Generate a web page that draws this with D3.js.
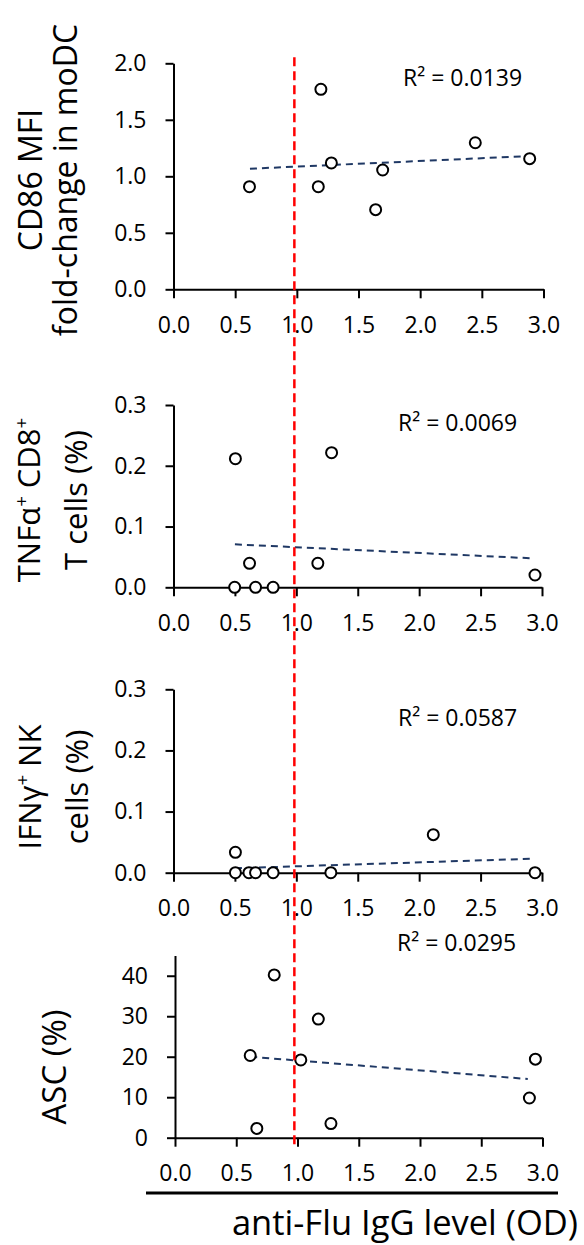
<!DOCTYPE html>
<html>
<head>
<meta charset="utf-8">
<script src="https://cdn.jsdelivr.net/npm/d3@7"></script>
<style>
  body { margin: 0; background: #fff; }
  text { font-family: "Open Sans", sans-serif; fill: #000; }
</style>
</head>
<body>
<div class="chart"></div>
<script>
// values
var xTicks = [0, 0.5, 1.0, 1.5, 2.0, 2.5, 3.0];
var cutoff = 0.98;

var cd86X = [0.616, 1.195, 1.280, 1.174, 1.696, 1.639, 2.447, 2.888];
var cd86Y = [0.908, 1.770, 1.118, 0.908, 1.056, 0.705, 1.297, 1.156];
var cd86Trend = [[0.62, 1.067], [2.90, 1.180]];

var tnfX = [0.504, 1.287, 0.619, 1.175, 0.498, 0.668, 0.811, 2.943];
var tnfY = [0.2116, 0.2215, 0.0395, 0.0395, 0, 0, 0, 0.0202];
var tnfTrend = [[0.50, 0.0707], [2.92, 0.0477]];

var ifnX = [0.504, 2.115, 0.504, 0.614, 0.668, 0.811, 1.281, 2.943];
var ifnY = [0.0334, 0.0622, 0, 0, 0, 0, 0, 0];
var ifnTrend = [[0.50, 0.0072], [2.92, 0.0229]];

var ascX = [0.81, 1.17, 0.614, 1.027, 2.942, 2.893, 0.668, 1.273];
var ascY = [40.2, 29.3, 20.3, 19.2, 19.4, 9.8, 2.3, 3.5];
var ascTrend = [[0.614, 20.0], [2.88, 14.5]];

var r2Labels = ["R\u00b2 = 0.0139", "R\u00b2 = 0.0069", "R\u00b2 = 0.0587", "R\u00b2 = 0.0295"];

var width = 584, height = 1245;

var svg = d3.select(".chart").append("svg")
    .attr("width", width)
    .attr("height", height);

// one entry per panel: frame in pixels + data
var panels = [
  { xs: cd86X, ys: cd86Y, trend: cd86Trend, yMax: 2.0, yTicks: [0, 0.5, 1.0, 1.5, 2.0], fmt: ".1f",
    top: 63.3, bottom: 289.3, left: 173.5, right: 543.5, r2: [403, 86],
    title: [["CD86 MFI"], ["fold-change in moDC"]], titleX: [42, 77], titleY: 180, titleSize: 32 },
  { xs: tnfX, ys: tnfY, trend: tnfTrend, yMax: 0.3, yTicks: [0, 0.1, 0.2, 0.3], fmt: ".1f",
    top: 405, bottom: 587.3, left: 173.5, right: 542, r2: [398, 431],
    title: [["TNF\u03b1", "+", " CD8", "+"], ["T cells (%)"]], titleX: [40, 87], titleY: 500, titleSize: 31 },
  { xs: ifnX, ys: ifnY, trend: ifnTrend, yMax: 0.3, yTicks: [0, 0.1, 0.2, 0.3], fmt: ".1f",
    top: 689.3, bottom: 872.7, left: 173.5, right: 542, r2: [398, 726],
    title: [["IFN\u03b3", "+", " NK"], ["cells (%)"]], titleX: [41, 88], titleY: 787, titleSize: 31 },
  { xs: ascX, ys: ascY, trend: ascTrend, yMax: 45, yTicks: [0, 10, 20, 30, 40], fmt: "d",
    top: 955.5, bottom: 1137.7, left: 175, right: 542.5, r2: [397, 951],
    title: [["ASC (%)"]], titleX: [66], titleY: 1067, titleSize: 33 }
];

var scales = [];

panels.forEach(function(p, i) {
  var x = d3.scaleLinear().domain([0, 3]).range([p.left, p.right]);
  var y = d3.scaleLinear().domain([0, p.yMax]).range([p.bottom, p.top]);
  scales.push({ x: x, y: y });

  var g = svg.append("g");

  // axes
  var yAxis = d3.axisLeft(y).tickValues(p.yTicks).tickFormat(d3.format(p.fmt))
      .tickSize(8).tickSizeOuter(0).tickPadding(19);
  var xAxis = d3.axisBottom(x).tickValues(xTicks).tickFormat(d3.format(".1f"))
      .tickSize(9).tickSizeOuter(0).tickPadding(18);

  g.append("g").attr("transform", "translate(" + p.left + ",0)").call(yAxis);
  g.append("g").attr("transform", "translate(0," + p.bottom + ")").call(xAxis);

  g.selectAll(".domain, .tick line").attr("stroke", "#000").attr("stroke-width", 2);
  g.selectAll(".tick text").attr("font-size", 23).attr("font-family", "Open Sans, sans-serif").attr("fill", "#000");

  // trend line
  g.append("line")
      .attr("x1", x(p.trend[0][0])).attr("y1", y(p.trend[0][1]))
      .attr("x2", x(p.trend[1][0])).attr("y2", y(p.trend[1][1]))
      .attr("stroke", "#1f3864").attr("stroke-width", 2)
      .attr("stroke-dasharray", "7,5");

  // points
  g.selectAll("circle").data(p.xs).enter().append("circle")
      .attr("cx", function(d) { return x(d); })
      .attr("cy", function(d, j) { return y(p.ys[j]); })
      .attr("r", 5.5)
      .attr("fill", "#fff").attr("stroke", "#000").attr("stroke-width", 2);

  // R² label
  g.append("text").attr("x", p.r2[0]).attr("y", p.r2[1])
      .attr("font-size", 23).text(r2Labels[i]);

  // rotated y title
  p.title.forEach(function(parts, k) {
    var t = g.append("text")
        .attr("transform", "translate(" + p.titleX[k] + "," + p.titleY + ") rotate(-90)")
        .attr("text-anchor", "middle")
        .attr("font-size", p.titleSize);
    parts.forEach(function(s) {
      if (s === "+") {
        t.append("tspan").attr("dy", -p.titleSize * 0.4).attr("font-size", p.titleSize * 0.6).text(s);
      } else {
        var ts = t.append("tspan").text(s);
        if (t.selectAll("tspan").size() > 1) ts.attr("dy", p.titleSize * 0.4);
      }
    });
  });
});

// red cut-off line through all panels
var s0 = scales[0], s3 = scales[3];
svg.append("line")
    .attr("x1", s0.x(cutoff)).attr("x2", s0.x(cutoff))
    .attr("y1", s0.y(2.0) - 6).attr("y2", s3.y(0) + 8)
    .attr("stroke", "#ff0000").attr("stroke-width", 2.5)
    .attr("stroke-dasharray", "9,5");

// bottom rule and x title
svg.append("line")
    .attr("x1", 146).attr("x2", 558)
    .attr("y1", 1193).attr("y2", 1193)
    .attr("stroke", "#000").attr("stroke-width", 3);

svg.append("text")
    .attr("x", 578).attr("y", 1235)
    .attr("text-anchor", "end")
    .attr("font-size", 34.5)
    .text("anti-Flu IgG level (OD)");
</script>
</body>
</html>
